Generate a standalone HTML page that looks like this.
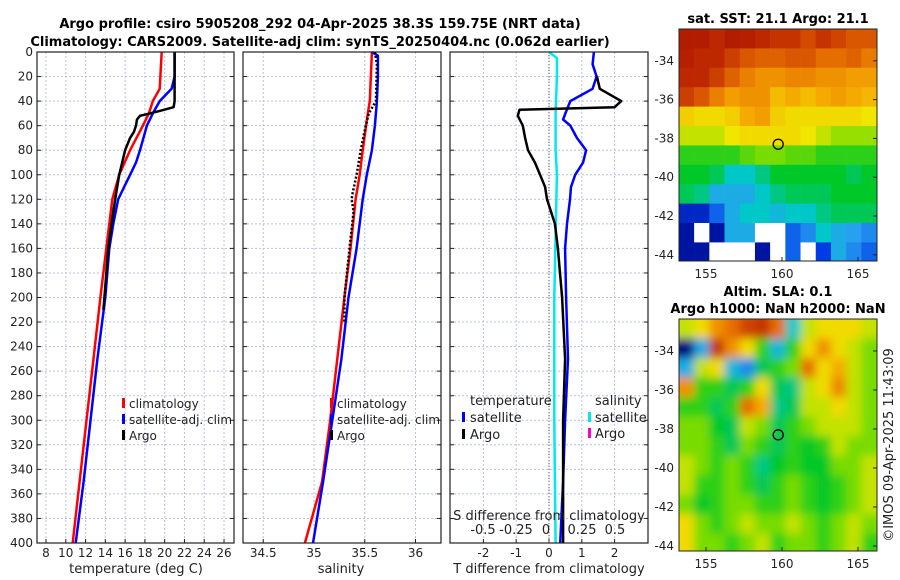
<!DOCTYPE html>
<html><head><meta charset="utf-8"><style>
body{margin:0;background:#fff}
svg{display:block;font-family:"DejaVu Sans","Liberation Sans",sans-serif}
</style></head><body>
<svg id="c" width="900" height="580" viewBox="0 0 900 580" xmlns="http://www.w3.org/2000/svg">
<defs>
<clipPath id="cm1"><rect x="679" y="29" width="198" height="232"/></clipPath>
<clipPath id="cm2"><rect x="679" y="319" width="198" height="232"/></clipPath>
<filter id="bl" x="-10%" y="-10%" width="120%" height="120%"><feGaussianBlur stdDeviation="4.5"/></filter>
</defs>
<g font-weight="bold" font-size="13" text-anchor="middle">
<text x="320" y="28">Argo profile: csiro 5905208_292 04-Apr-2025 38.3S 159.75E (NRT data)</text>
<text x="320" y="46">Climatology: CARS2009. Satellite-adj clim: synTS_20250404.nc (0.062d earlier)</text>
</g>
<g id="plots"></g>
<text x="778" y="23" font-weight="bold" font-size="13" text-anchor="middle">sat. SST: 21.1 Argo: 21.1</text>
<text x="778" y="296" font-weight="bold" font-size="13" text-anchor="middle">Altim. SLA: 0.1</text>
<text x="778" y="313" font-weight="bold" font-size="13" text-anchor="middle">Argo h1000: NaN h2000: NaN</text>
<text transform="translate(893,445) rotate(-90)" font-size="13" text-anchor="middle" fill="#222">©IMOS 09-Apr-2025 11:43:09</text>
</svg>
<script>
// ---- profile data ----
const climDepth=[0,30,40,50,60,80,100,120,160,200,250,300,350,400];
const climTemp=[19.7,19.5,18.8,18.4,17.8,16.5,15.4,14.7,14.1,13.5,12.8,12.1,11.4,10.7];
const satDepth=[0,20,30,40,50,60,80,90,100,110,120,140,160,200,250,300,350,400];
const satTemp=[21.0,21.0,20.7,19.5,18.8,18.2,17.5,17.1,16.5,15.9,15.3,14.8,14.4,14.0,13.2,12.5,11.8,11.0];
const argoDepth=[0,40,45,48,50,52,55,60,65,70,80,90,100,115,130,160,200,210];
const argoTemp=[21.0,21.0,20.9,19.5,18.5,17.5,17.2,17.1,16.9,16.5,16.0,15.7,15.4,15.1,14.8,14.3,13.9,13.8];

const climSDepth=[0,40,50,80,100,120,160,200,250,300,350,400];
const climSal=[35.57,35.55,35.53,35.48,35.45,35.41,35.36,35.30,35.23,35.16,35.08,34.91];
const satSDepth=[0,3,20,40,50,60,80,100,120,160,200,250,300,350,400];
const satSal=[35.57,35.63,35.63,35.62,35.61,35.60,35.57,35.52,35.48,35.42,35.34,35.27,35.18,35.09,34.99];
const argoSDepth=[0,10,40,50,60,80,100,115,120,130,160,200,220];
const argoSal=[35.60,35.62,35.61,35.54,35.51,35.46,35.42,35.38,35.37,35.39,35.35,35.30,35.30];

const dTDepthSat=[0,10,20,30,40,50,55,60,70,80,90,100,110,120,140,160,200,250,300,350,400];
const dTSat=[1.37,1.33,1.45,1.33,0.65,0.5,0.43,0.65,0.85,1.13,1.04,0.8,0.67,0.64,0.55,0.49,0.52,0.58,0.49,0.43,0.34];
const dTDepthArgo=[20,30,40,45,47,52,60,70,80,90,100,110,120,130,140,160,200,250,300,350,400];
const dTArgo=[1.46,1.55,2.2,2.0,-0.9,-0.95,-0.8,-0.73,-0.64,-0.43,-0.27,-0.12,-0.06,0.06,0.18,0.27,0.4,0.49,0.43,0.43,0.43];
const dSDepthSat=[0,5,20,50,80,100,150,200,300,400];
const dSSat=[0.0,0.06,0.06,0.05,0.05,0.06,0.05,0.04,0.04,0.05];

// ---- map data (0..1 colour index, null = no data) ----
const sstGrid=[
[0.93,0.93,0.9,0.93,0.92,0.9,0.88,0.88,0.84,0.88,0.85,0.82,0.82],
[0.92,0.9,0.9,0.86,0.82,0.8,0.8,0.82,0.82,0.78,0.78,0.8,0.76],
[0.9,0.9,0.86,0.8,0.75,0.72,0.72,0.74,0.74,0.72,0.72,0.7,0.7],
[0.86,0.82,0.75,0.7,0.72,0.72,0.65,0.68,0.65,0.68,0.7,0.68,0.66],
[0.62,0.6,0.6,0.62,0.68,0.7,0.62,0.6,0.6,0.6,0.6,0.6,0.58],
[0.55,0.55,0.55,0.58,0.6,0.6,0.6,0.6,0.58,0.55,0.52,0.52,0.52],
[0.45,0.45,0.45,0.45,0.48,0.5,0.5,0.48,0.48,0.45,0.45,0.45,0.45],
[0.42,0.42,0.4,0.35,0.35,0.38,0.42,0.42,0.42,0.42,0.42,0.4,0.42],
[0.4,0.38,0.3,0.3,0.3,0.35,0.38,0.4,0.4,0.4,0.42,0.42,0.42],
[0.1,0.1,0.2,0.3,0.35,0.35,0.32,0.35,0.35,0.38,0.4,0.4,0.4],
[0.05,null,0.05,0.3,0.3,null,null,0.2,0.25,0.35,0.3,0.28,0.25],
[0.05,0.05,null,null,null,0.05,null,0.2,null,0.15,0.3,0.25,0.2]];
const slaGrid=[
[0.55,0.6,0.72,0.78,0.85,0.88,0.78,0.35,0.55,0.6,0.6,0.6,0.55],
[0.0,0.3,0.88,0.72,0.6,0.45,0.32,0.45,0.6,0.72,0.6,0.55,0.5],
[0.3,0.55,0.6,0.32,0.25,0.4,0.45,0.5,0.78,0.6,0.68,0.55,0.5],
[0.72,0.45,0.45,0.4,0.45,0.6,0.4,0.38,0.55,0.6,0.74,0.55,0.5],
[0.45,0.45,0.4,0.45,0.78,0.68,0.38,0.4,0.55,0.55,0.6,0.55,0.5],
[0.5,0.5,0.42,0.4,0.55,0.5,0.4,0.45,0.5,0.55,0.55,0.55,0.5],
[0.5,0.5,0.45,0.4,0.5,0.45,0.4,0.45,0.42,0.45,0.55,0.5,0.5],
[0.55,0.5,0.45,0.5,0.45,0.38,0.42,0.45,0.42,0.42,0.5,0.5,0.55],
[0.55,0.45,0.45,0.5,0.45,0.4,0.45,0.5,0.45,0.42,0.45,0.5,0.55],
[0.5,0.42,0.45,0.5,0.5,0.45,0.45,0.5,0.45,0.42,0.45,0.5,0.55],
[0.6,0.5,0.45,0.5,0.55,0.5,0.5,0.55,0.5,0.45,0.5,0.55,0.5],
[0.6,0.5,0.5,0.45,0.5,0.55,0.45,0.5,0.5,0.45,0.5,0.55,0.45]];
const depthTicks=[0,20,40,60,80,100,120,140,160,180,200,220,240,260,280,300,320,340,360,380,400];
const tempTicks=[8,10,12,14,16,18,20,22,24,26];
const salTicks=[34.5,35,35.5,36];
const dTTicks=[-2,-1,0,1,2];
const dSTicks=[-0.5,-0.25,0,0.25,0.5];
const dSLabels=['-0.5','-0.25','0','0.25','0.5'];
const latTicks=[-34,-36,-38,-40,-42,-44];
const lonTicks=[155,160,165];
const argoLon=159.75, argoLat=-38.3;

const NS='http://www.w3.org/2000/svg';
const root=document.getElementById('plots');
function el(tag,attrs,parent){const e=document.createElementNS(NS,tag);for(const k in attrs)e.setAttribute(k,attrs[k]);(parent||root).appendChild(e);return e;}
const Y0=52,Y1=543;
const yD=d=>Y0+d/400*(Y1-Y0);
const xT=t=>46+(t-8)*9.89;
const xS=s=>314+(s-35)*101.5;
const xDT=v=>549+v*32.8;
const xDS=v=>549+v*132;

function panel(name,x0,x1,vTicks,xf,labels){
  const g=el('g',{});
  
  
  el('rect',{x:x0,y:Y0,width:x1-x0,height:Y1-Y0,fill:'#fff'},g);
  depthTicks.forEach(d=>{if(d>0&&d<400)el('line',{x1:x0,x2:x1,y1:yD(d),y2:yD(d),stroke:'#b8c0e0','stroke-width':1,'stroke-dasharray':'2,2'},g);
    el('line',{x1:x0,x2:x0+4,y1:yD(d),y2:yD(d),stroke:'#222'},g);el('line',{x1:x1-4,x2:x1,y1:yD(d),y2:yD(d),stroke:'#222'},g);});
  vTicks.forEach((t,i)=>{const x=xf(t);el('line',{x1:x,x2:x,y1:Y0,y2:Y1,stroke:'#b8c0e0','stroke-width':1,'stroke-dasharray':'2,2'},g);
    el('line',{x1:x,x2:x,y1:Y1-4,y2:Y1,stroke:'#222'},g);
    if(labels){const tx=el('text',{x:x,y:Y1+14,'font-size':12,'text-anchor':'middle',fill:'#222'},g);tx.textContent=labels[i];
      }});
  return g;
}
function frame(g,x0,x1){el('rect',{x:x0,y:Y0,width:x1-x0,height:Y1-Y0,fill:'none',stroke:'#222','stroke-width':1.2},g);}
function line(g,ds,vs,xf,color,w,dash,name){
  const p=ds.map((d,i)=>(i?'L':'M')+xf(vs[i]).toFixed(1)+','+yD(d).toFixed(1)).join('');
  const e=el('path',{d:p,fill:'none',stroke:color,'stroke-width':w,'stroke-linejoin':'round'},g);
  if(dash)e.setAttribute('stroke-dasharray',dash);
  
  
}
function txt(g,x,y,s,name,opt){const t=el('text',Object.assign({x:x,y:y,'font-size':12,fill:'#222'},opt||{}),g);t.textContent=s;
  return t;}
function mark(g,x,y,color){el('rect',{x:x,y:y-10,width:3,height:10,fill:color},g);}

// Panel 1: temperature
let g=panel('temperature-panel',37,234,tempTicks,xT,tempTicks.map(String));
depthTicks.forEach(d=>txt(g,33,yD(d)+4,String(d),'y-tick-label',{'text-anchor':'end'}));
line(g,climDepth,climTemp,xT,'#ff0000',2.5,null,'climatology-temp-line');
line(g,satDepth,satTemp,xT,'#0000ff',2.5,null,'satellite-temp-line');
line(g,argoDepth,argoTemp,xT,'#000',2.5,null,'argo-temp-line');
frame(g,37,234);
txt(g,136,573,'temperature (deg C)','x-axis-title',{'text-anchor':'middle','font-size':13});
mark(g,122,408,'#ff0000');txt(g,129,408,'climatology','legend-entry');
mark(g,122,424,'#0000ff');txt(g,129,424,'satellite-adj. clim','legend-entry');
mark(g,122,440,'#000');txt(g,129,440,'Argo','legend-entry');

// Panel 2: salinity
g=panel('salinity-panel',243,441,salTicks,xS,salTicks.map(String));
line(g,climSDepth,climSal,xS,'#ff0000',2.5,null,'climatology-sal-line');
line(g,satSDepth,satSal,xS,'#0000ff',2.5,null,'satellite-sal-line');
line(g,argoSDepth,argoSal,xS,'#000',2.5,'2,2','argo-sal-line');
frame(g,243,441);
txt(g,341,573,'salinity','x-axis-title',{'text-anchor':'middle','font-size':13});
mark(g,330,408,'#ff0000');txt(g,337,408,'climatology','legend-entry');
mark(g,330,424,'#0000ff');txt(g,337,424,'satellite-adj. clim','legend-entry');
mark(g,330,440,'#000');txt(g,337,440,'Argo','legend-entry');

// Panel 3: differences
g=panel('difference-panel',450,648,dTTicks,xDT,dTTicks.map(String));
el('line',{x1:xDT(0),x2:xDT(0),y1:Y0,y2:Y1,stroke:'#555','stroke-dasharray':'1,2'},g);
line(g,dSDepthSat,dSSat,xDS,'#00e8f0',2.5,null,'satellite-sal-diff-line');
line(g,dTDepthSat,dTSat,xDT,'#0000ff',2.5,null,'satellite-temp-diff-line');
line(g,dTDepthArgo,dTArgo,xDT,'#000',2.5,null,'argo-temp-diff-line');
frame(g,450,648);
txt(g,549,573,'T difference from climatology','x-axis-title',{'text-anchor':'middle','font-size':13});
txt(g,549,520,'S difference from climatology','s-axis-title',{'text-anchor':'middle','font-size':13});
dSTicks.forEach((t,i)=>txt(g,xDS(t)+(i==2?-3:0),534,dSLabels[i],'s-tick-label',{'text-anchor':'middle','font-size':13}));
txt(g,470,405,'temperature','legend-title',{'font-size':13});
mark(g,462,422,'#0000ff');txt(g,470,422,'satellite','legend-entry',{'font-size':13});
mark(g,462,439,'#000');txt(g,470,439,'Argo','legend-entry',{'font-size':13});
txt(g,595,405,'salinity','legend-title',{'font-size':13});
mark(g,588,422,'#00e8f0');txt(g,595,422,'satellite','legend-entry',{'font-size':13});
mark(g,588,438,'#ff00cc');txt(g,595,438,'Argo','legend-entry',{'font-size':13});

// ---- maps ----
const stops=[[0,[0,0,128]],[0.15,[0,60,230]],[0.28,[40,160,240]],[0.35,[0,200,200]],[0.42,[0,200,40]],[0.5,[120,220,0]],[0.58,[240,230,0]],[0.68,[245,170,0]],[0.78,[230,110,0]],[0.9,[190,40,0]],[1,[150,0,0]]];
function cmap(v){for(let i=1;i<stops.length;i++){if(v<=stops[i][0]){const a=stops[i-1],b=stops[i],f=(v-a[0])/(b[0]-a[0]);
  return 'rgb('+a[1].map((c,k)=>Math.round(c+(b[1][k]-c)*f)).join(',')+')';}}return 'rgb(150,0,0)';}
const LON0=153.22,LAT0=-32.36;
function map(name,grid,top,pxLat,clip,blur){
  const g=el('g',{});
  
  
  const xL=lon=>706+(lon-155)*15.2;
  const yL=lat=>top+(LAT0-lat)*pxLat;
  el('rect',{x:679,y:top,width:198,height:232,fill:'#fff'},g);
  const cg=el('g',{'clip-path':'url(#'+clip+')'},g);
  const inner=el('g',blur?{filter:'url(#bl)'}:{},cg);
  grid.forEach((row,r)=>row.forEach((v,c)=>{
    const x=xL(LON0+c),y=yL(LAT0-r);
    const ex=blur?((c==0?8:0)):0, ey=blur?((r==0?8:0)):0;
    const ew=blur?((c==0||c==row.length-1)?8:0):0, eh=blur?((r==0||r==grid.length-1)?8:0):0;
    const cell=el('rect',{x:x-ex,y:y-ey,width:15.5+ew,height:pxLat+0.5+eh,fill:v===null?'#fff':cmap(v)},inner);
    
    
  }));
  el('rect',{x:679,y:top,width:198,height:232,fill:'none',stroke:'#222'},g);
  latTicks.forEach(t=>{const y=yL(t);el('line',{x1:877,x2:873,y1:y,y2:y,stroke:'#222'},g);txt(g,674,y+4,String(t),'lat-tick-label',{'text-anchor':'end'});});
  lonTicks.forEach(t=>{const x=xL(t);el('line',{x1:x,x2:x,y1:top+232,y2:top+228,stroke:'#222'},g);txt(g,x,top+232+17,String(t),'lon-tick-label',{'text-anchor':'middle'});});
  const m=el('circle',{cx:xL(argoLon),cy:yL(argoLat),r:5,fill:'none',stroke:'#000','stroke-width':1.3},g);
  
  
}
map('sst-map',sstGrid,29,19.4,'cm1',false);
map('sla-map',slaGrid,319,19.5,'cm2',true);
</script>
</body></html>
